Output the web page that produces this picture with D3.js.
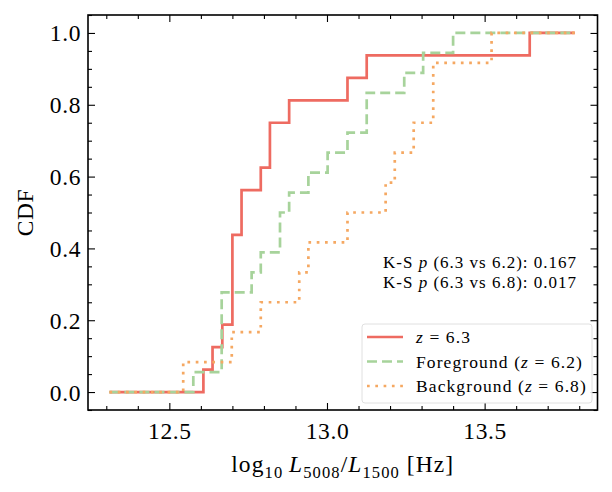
<!DOCTYPE html>
<html>
<head>
<meta charset="utf-8">
<script src="https://cdn.jsdelivr.net/npm/d3@7"></script>
<style>
  body { margin: 0; background: #fff; }
</style>
</head>
<body>
<svg id="chart" width="612" height="492"></svg>
<script>
"use strict";

// sorted sample values, log10 L5008/L1500 [Hz]
var z63 = [12.608, 12.637, 12.668, 12.700, 12.700, 12.700, 12.700, 12.729, 12.729,
  12.790, 12.819, 12.819, 12.880, 13.065, 13.126, 13.643];
var foreground = [12.576, 12.666, 12.666, 12.666, 12.666, 12.761, 12.790, 12.851, 12.851,
  12.880, 12.941, 13.002, 13.065, 13.126, 13.126, 13.245, 13.305, 13.400];
var background = [12.544, 12.698, 12.790, 12.912, 12.941, 13.065, 13.186, 13.215,
  13.275, 13.337, 13.337, 13.522];

// common x extent the CDFs are drawn over
var cdfStart = 12.31;
var cdfEnd = 13.786;

var seriesNames = ["z63", "foreground", "background"];
var ksText = ["0.167", "0.017"];
var ksPairs = ["6.3 vs 6.2", "6.3 vs 6.8"];

var xTicks = [12.5, 13.0, 13.5];
var yTicks = [0, 0.2, 0.4, 0.6, 0.8, 1.0];

var SERIF = '"Liberation Serif", "Times New Roman", serif';
var m = { left: 88, right: 597.5, top: 15, bottom: 410 };

var svg = d3.select("#chart");

var x = d3.scaleLinear().domain([12.242, 13.858]).range([m.left, m.right]);
var y = d3.scaleLinear().domain([-0.05, 1.05]).range([m.bottom, m.top]);

function cdfPoints(a) {
  var n = a.length;
  var pts = [[cdfStart, 0]];
  a.forEach((v, i) => pts.push([v, (i + 1) / n]));
  pts.push([cdfEnd, 1]);
  return pts;
}

var styles = {
  z63: { color: "#ee6b61", dash: null },
  foreground: { color: "#a7d39b", dash: "10,5" },
  background: { color: "#f5a862", dash: "2.7,5.6" }
};
var data = { z63: z63, foreground: foreground, background: background };

var line = d3
  .line()
  .x(d => x(d[0]))
  .y(d => y(d[1]))
  .curve(d3.curveStepAfter);

var plot = svg.append("g");
seriesNames.forEach(function(k) {
  plot
    .append("path")
    .datum(cdfPoints(data[k]))
    .attr("fill", "none")
    .attr("stroke", styles[k].color)
    .attr("stroke-width", 2.7)
    .attr("stroke-dasharray", styles[k].dash)
    .attr("d", line);
});

// ticks: inward on all four sides
function minorRange(a, b, s) {
  var out = [];
  for (var v = a; v <= b + 1e-9; v += s) out.push(+v.toFixed(3));
  return out;
}
var xMinor = minorRange(12.3, 13.8, 0.1).filter(v => xTicks.indexOf(v) < 0);
var yMinor = minorRange(-0.05, 1.05, 0.05).filter(v => !yTicks.some(t => Math.abs(t - v) < 1e-6));

function addAxis(gen, tr, major, minor, labels) {
  var g = svg.append("g").attr("transform", tr);
  g.call(gen(major).tickSize(-7).tickPadding(0).tickFormat(labels || ""));
  svg.append("g").attr("transform", tr)
    .call(gen(minor).tickSize(-4).tickFormat(""));
  return g;
}
function bottomGen(v) { return d3.axisBottom(x).tickValues(v); }
function topGen(v) { return d3.axisTop(x).tickValues(v); }
function leftGen(v) { return d3.axisLeft(y).tickValues(v); }
function rightGen(v) { return d3.axisRight(y).tickValues(v); }

var gx = addAxis(bottomGen, `translate(0,${m.bottom})`, xTicks, xMinor, d3.format(".1f"));
addAxis(topGen, `translate(0,${m.top})`, xTicks, xMinor, null);
var gy = addAxis(leftGen, `translate(${m.left},0)`, yTicks, yMinor, d3.format(".1f"));
addAxis(rightGen, `translate(${m.right},0)`, yTicks, yMinor, null);

svg.selectAll(".domain").remove();
svg.selectAll(".tick line").attr("stroke", "#000").attr("stroke-width", 1.1);

gx.attr("font-family", null);
gy.attr("font-family", null);
gx.selectAll(".tick text")
  .attr("y", 29)
  .attr("dy", null)
  .style("font-family", SERIF)
  .style("font-size", "23.5px")
  .style("letter-spacing", "0.6px");
gy.selectAll(".tick text")
  .attr("x", -7)
  .attr("dy", "0.34em")
  .style("font-family", SERIF)
  .style("font-size", "23.5px")
  .style("letter-spacing", "0.6px");

svg.append("rect")
  .attr("x", m.left).attr("y", m.top)
  .attr("width", m.right - m.left).attr("height", m.bottom - m.top)
  .attr("fill", "none").attr("stroke", "#000").attr("stroke-width", 1.6);

// axis labels
var xl = svg.append("text")
  .attr("x", (m.left + m.right) / 2)
  .attr("y", 472)
  .attr("text-anchor", "middle")
  .style("font-family", SERIF)
  .style("font-size", "23.5px")
  .style("letter-spacing", "1.1px");
xl.append("tspan").text("log");
xl.append("tspan").attr("dy", 6).style("font-size", "16.5px").text("10");
xl.append("tspan").attr("dy", -6).text("\u2009");
xl.append("tspan").style("font-style", "italic").text("L");
xl.append("tspan").attr("dy", 6).style("font-size", "16.5px").text("5008");
xl.append("tspan").attr("dy", -6).text("/");
xl.append("tspan").style("font-style", "italic").text("L");
xl.append("tspan").attr("dy", 6).style("font-size", "16.5px").text("1500");
xl.append("tspan").attr("dy", -6).text(" [Hz]");

svg.append("text")
  .attr("transform", `translate(33,${(m.top + m.bottom) / 2}) rotate(-90)`)
  .attr("text-anchor", "middle")
  .style("font-family", SERIF)
  .style("font-size", "23.5px")
  .style("letter-spacing", "0.6px")
  .text("CDF");

// K-S annotation
ksPairs.forEach(function(p, i) {
  var t = svg.append("text")
    .attr("x", 383)
    .attr("y", 268 + i * 20)
    .style("font-family", SERIF)
    .style("font-size", "17px")
    .style("letter-spacing", "1px");
  t.append("tspan").text("K-S ");
  t.append("tspan").style("font-style", "italic").text("p");
  t.append("tspan").text(` (${p}): ${ksText[i]}`);
});

// legend
var lg = svg.append("g");
lg.append("rect")
  .attr("x", 362).attr("y", 324)
  .attr("width", 230).attr("height", 79)
  .attr("rx", 3)
  .attr("fill", "#fff").attr("fill-opacity", 0.8)
  .attr("stroke", "#e0e0e0").attr("stroke-width", 1);

var legendRows = [
  { key: "z63", parts: [["z", true], [" = 6.3", false]] },
  { key: "foreground", parts: [["Foreground (", false], ["z", true], [" = 6.2)", false]] },
  { key: "background", parts: [["Background (", false], ["z", true], [" = 6.8)", false]] }
];
legendRows.forEach(function(r, i) {
  var yy = 337 + i * 24.5;
  lg.append("line")
    .attr("x1", 367).attr("x2", 403)
    .attr("y1", yy).attr("y2", yy)
    .attr("stroke", styles[r.key].color)
    .attr("stroke-width", 2.7)
    .attr("stroke-dasharray", styles[r.key].dash);
  var t = lg.append("text")
    .attr("x", 416).attr("y", yy)
    .attr("dy", "0.35em")
    .style("font-family", SERIF)
    .style("font-size", "17.5px")
    .style("letter-spacing", "1.1px");
  r.parts.forEach(p => t.append("tspan").style("font-style", p[1] ? "italic" : null).text(p[0]));
});
</script>
</body>
</html>
